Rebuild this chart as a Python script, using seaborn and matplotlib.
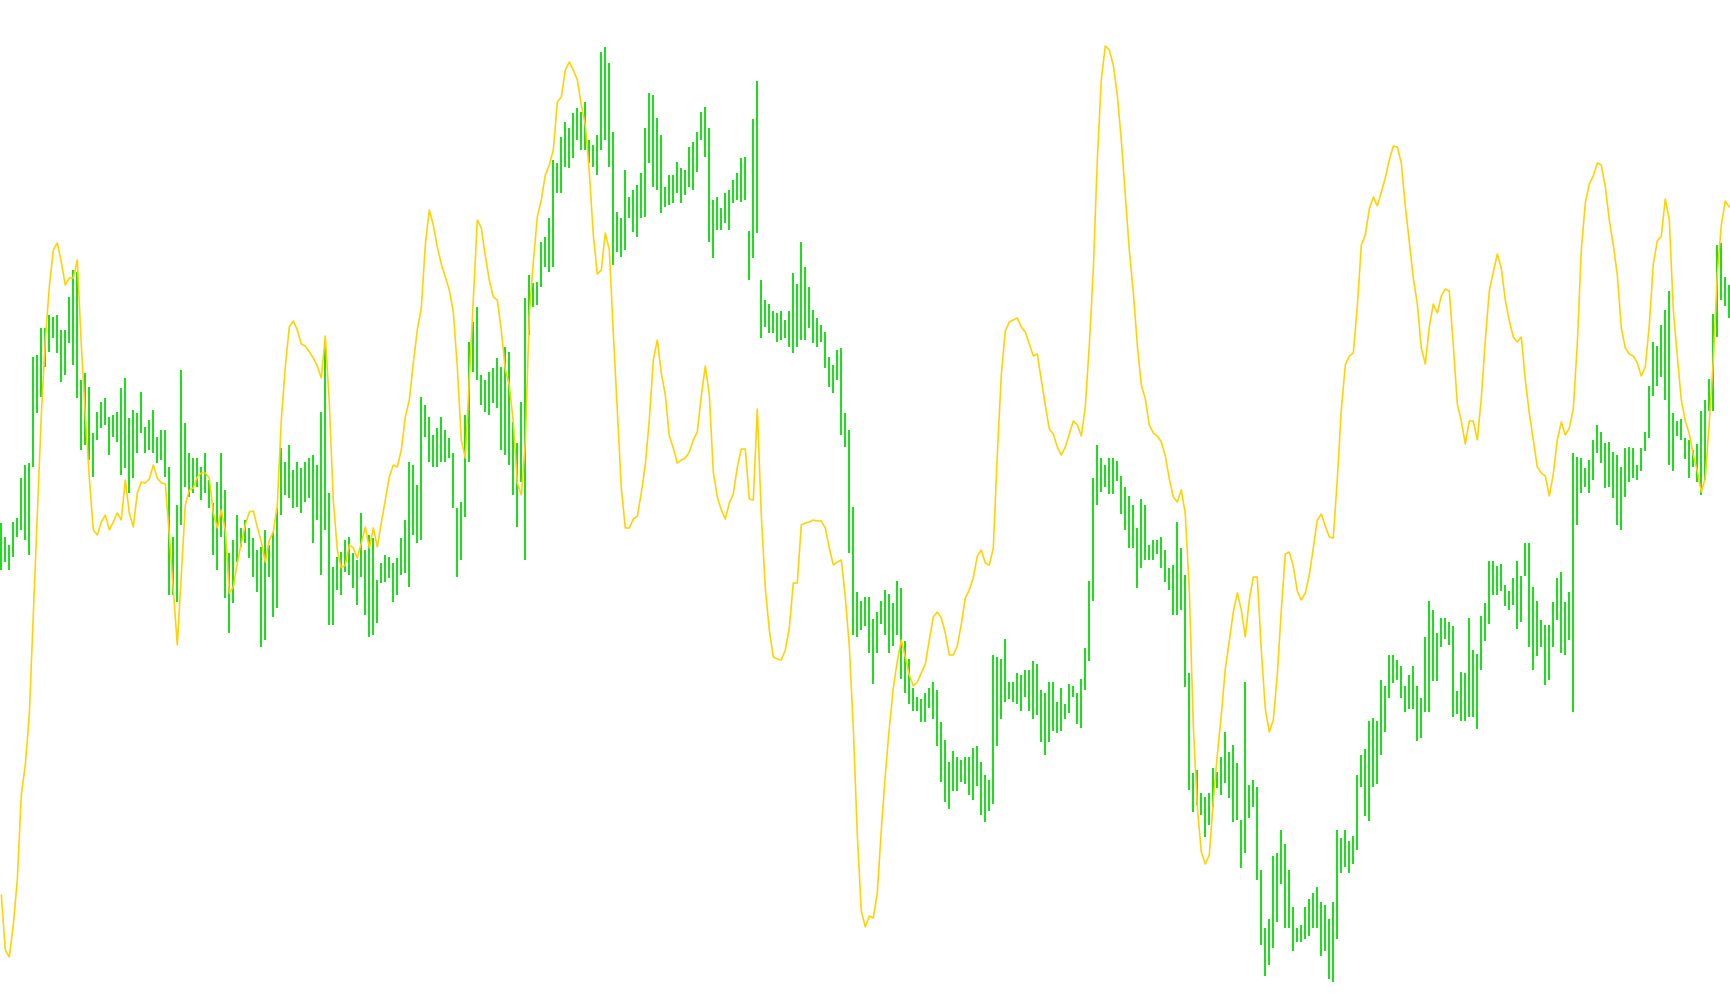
import numpy as np
import pandas as pd
import matplotlib
matplotlib.use("Agg")
import matplotlib.pyplot as plt
import seaborn as sns

# Bar ranges (picture levels measured downward from the top edge of the chart)
bar_top = [
    523,537,545,522,518,478,465,463,357,355, 328,328,315,317,315,330,330,297,270,272,
    380,373,387,433,412,402,398,417,415,412, 388,378,418,410,413,392,427,420,410,437,
    430,430,467,537,505,370,423,453,458,458, 467,453,480,503,482,453,490,553,540,515,
    528,520,528,538,550,547,530,545,532,508, 448,462,445,
    470,462,468,462,458,455,465,412,347,493, 567,557,552,540,537,553,560,513,550,535,
    538,580,563,555,557,563,558,538,520,462, 465,485,397,405,417,435,428,417,430,438,
    453,508,502,415,342,322,307,375,380,372, 368,358,367,347,352,422,443,402,298,275,
    283,282,242,237,218,160,163,137,122,
    128,113,108,112,102,140,145,135,52,47, 63,132,212,218,170,197,190,185,173,128,
    93,95,118,135,187,175,175,162,168,170, 147,142,132,112,107,128,200,197,208,193,
    190,180,173,158,157,
    231,119,81,280,300,304,311,313,311,320, 311,273,284,242,267,287,310,318,325,332,
    357,365,350,348,413,430,
    507,592,601,597,597,619,612,601,590,594, 603,581,588,641,659,688,697,699,693,688,
    682,690,722,740,762,751,757,760,757,757, 748,746,762,775,780,655,657,659,639,682,
    682,673,675,670,670,661,664,690,693,682, 682,702,688,704,684,686,693,679,648,581,
    478,445,458,465,458,458,461,476,487,496, 505,528,
    499,505,545,540,540,537,550,568,565,522, 548,575,673,773,770,793,797,793,768,772,
    757,732,752,745,763,820,682,785,780,787, 870,928,919,856,853,830,844,870,907,928,
    925,907,899,893,887,902,905,919,902,830, 838,830,841,836,775,755,749,721,718,721,
    680,686,655,655,660,666,686,675,666,686, 698,637,601,
    610,633,618,618,622,626,691,672,673,618, 650,654,616,603,561,561,566,564,585,591,
    578,561,576,543,543,587,601, 620,625,625,602,578,572,602,592,453,457,
    458,468,460,440,425,432,443,442,452,455, 467,448,447,448,465,448,432,
    386,342,346,325,310,
    291,413,421,419,438,440,450,444,411,400, 379,314,245,243,277,285,
]
bar_bot = [
    570,562,570,557,537,530,540,555,467,413, 397,367,352,338,353,382,375,343,365,398,
    450,445,460,477,440,428,425,455,437,442, 475,468,493,478,453,433,453,450,453,463,
    460,477,595,595,602,525,487,497,493,487, 500,493,508,555,570,537,598,633,603,562,
    547,543,558,577,592,647,640,577,617,608, 515,495,498,
    508,507,513,502,498,543,520,575,530,625, 625,590,595,572,575,588,605,577,615,637,
    635,623,583,582,578,602,595,575,573,587, 535,543,540,437,462,467,467,462,462,458,
    508,577,560,517,462,372,380,405,412,415, 403,408,450,455,465,495,527,482,560,335,
    307,305,287,267,272,267,193,193,167,
    168,158,140,150,150,163,167,175,150,140, 167,265,252,257,250,218,232,237,218,217,
    163,187,190,213,207,205,203,193,203,195, 187,190,172,140,157,242,258,230,230,223,
    230,203,200,202,200,
    280,258,233,338,327,333,333,342,340,338, 347,353,347,340,340,328,343,347,342,368,
    387,393,380,435,447,553,
    635,637,630,626,653,684,653,624,635,653, 646,635,679,693,704,711,711,722,722,708,
    719,746,782,802,809,791,791,782,784,795, 800,786,815,822,811,804,746,719,702,699,
    702,704,711,697,711,719,715,742,755,742, 731,733,731,719,713,697,724,728,690,661,
    601,505,492,487,494,494,481,514,530,548, 548,588,
    568,560,560,560,554,568,582,590,615,615, 610,687,790,812,805,815,837,825,807,788,
    795,783,798,822,820,868,853,818,807,880, 945,976,965,948,922,884,928,928,951,942,
    942,939,936,928,928,956,951,979,982,939, 873,867,873,864,850,787,816,821,787,784,
    755,732,698,683,680,698,712,709,709,741, 738,712,712,
    681,681,647,639,645,717,714,721,721,717, 717,729,670,641,624,595,595,591,606,610,
    605,629,622,576,647,670,656, 647,685,680,647,620,653,655,640,712,525,
    493,487,493,480,453,463,488,487,498,525, 530,497,482,478,480,471,451,
    438,396,386,377,400,
    465,471,436,440,459,478,467,482,495,480, 411,411,337,300,306,318,
]
# Yellow line, one value per bar (same downward picture levels)
signal = [
    895,950,957,925,880,795,765,715,615,515,415,340,287,250,243,262,285,278,278,260,
    345,415,478,530,535,522,515,530,522,513,520,480,513,527,493,482,483,479,465,478,
    483,484,535,590,645,575,505,490,488,477,473,473,478,513,528,510,530,593,587,563,
    543,525,512,511,527,542,562,540,532,505,420,367,327,321,330,344,346,352,358,366,
    378,336,403,500,550,568,565,545,548,558,543,527,548,528,547,523,500,477,465,467,
    450,417,400,363,330,308,245,210,225,247,264,277,290,312,367,440,458,380,300,220,
    228,256,280,297,300,330,370,385,422,483,495,443,315,262,217,200,175,165,150,102,
    97,70,62,70,80,105,125,172,235,274,270,233,250,333,410,488,528,528,519,516,
    493,465,420,360,340,373,395,436,448,463,460,458,452,440,432,396,366,395,472,497,
    510,519,503,494,467,449,449,499,500,409,515,588,630,657,659,660,650,628,583,583,
    525,523,522,520,521,521,528,548,565,562,560,597,646,728,835,911,927,916,918,893,
    830,775,728,688,661,640,657,675,686,682,673,664,640,617,612,618,633,655,655,646,
    624,598,590,578,556,550,563,565,548,455,375,331,322,320,318,327,332,344,356,354,
    380,405,429,434,447,455,447,434,421,425,436,407,345,270,160,80,46,50,65,95,
    140,195,250,292,345,385,399,425,433,436,442,456,479,497,502,490,514,590,726,807,
    852,864,855,801,755,715,669,641,612,593,610,637,600,577,577,650,709,732,720,675,
    610,554,552,566,591,600,593,575,548,520,514,526,537,538,479,410,365,356,353,307,
    245,235,209,197,206,192,178,160,146,147,163,206,242,278,304,348,364,327,304,313,
    296,289,291,345,404,421,444,421,421,440,398,340,291,272,254,268,300,321,337,342,
    337,380,413,440,467,473,476,496,474,440,422,435,428,409,344,250,203,184,176,163,
    165,187,220,245,275,328,348,354,356,363,376,367,325,264,241,236,199,220,310,356,
    400,421,434,455,471,492,478,422,360,274,225,201,207,
]

sns.set_theme(style="white")
fig = plt.figure(figsize=(17.30, 10.05), dpi=100)
ax = fig.add_axes([0, 0, 1, 1])

idx = np.arange(len(bar_top))
ax.vlines(idx, bar_top, bar_bot, colors="#1edc1e", linewidth=1.44,
          antialiased=False, zorder=2)

df = pd.DataFrame({"bar": np.arange(len(signal)), "signal": signal})
sns.lineplot(data=df, x="bar", y="signal", color="#ffd200", linewidth=1.15,
             ax=ax, zorder=3, legend=False)

ax.set_xlim(-0.325, 432.175)
ax.set_ylim(1005, 0)
ax.axis("off")
fig.savefig("out.png", dpi=100, facecolor="white")
